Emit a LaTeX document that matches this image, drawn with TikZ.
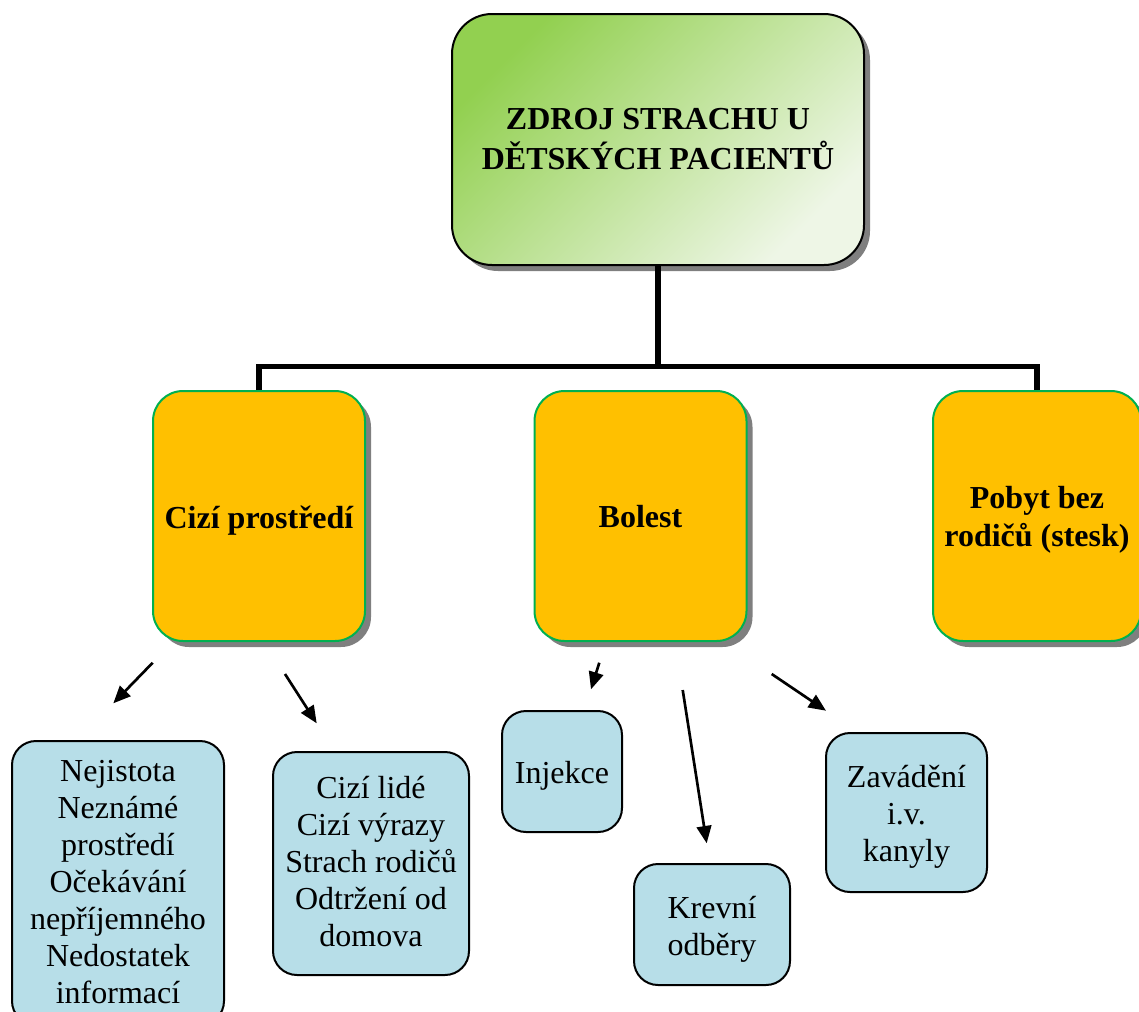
\documentclass[tikz,border=0pt]{standalone}
\usepackage{fontspec}
\setmainfont{Liberation Serif}
\usetikzlibrary{arrows.meta,shadows}

\definecolor{leafgreen}{HTML}{92D050}
\definecolor{paleleaf}{HTML}{EEF6E6}
\definecolor{amber}{HTML}{FFC000}
\definecolor{rimgreen}{HTML}{00B050}
\definecolor{paleblue}{HTML}{B7DEE8}

% centred lines, set slightly below the middle of their box
\newcommand\boxlines[2][3pt]{\raisebox{-#1}[\height][\depth]{\begin{tabular}{@{}c@{}}#2\end{tabular}}}

\begin{document}
\begin{tikzpicture}[x=0.75pt,y=-0.75pt,
  font=\fontsize{24}{27.75}\selectfont,
  boxshadow/.style={drop shadow={shadow xshift=4.5pt,shadow yshift=-4.5pt,fill=black,opacity=0.5}},
  headbox/.style={draw=black,line width=1.5pt,rounded corners=30pt,
    top color=leafgreen,bottom color=paleleaf,shading angle=45,
    boxshadow,inner sep=0pt,font=\fontsize{24}{27.75}\selectfont\bfseries},
  causebox/.style={draw=rimgreen,line width=1.5pt,fill=amber,rounded corners=22.5pt,
    boxshadow,inner sep=0pt,font=\fontsize{24}{28.5}\selectfont\bfseries,
    minimum width=159pt,minimum height=187.5pt},
  itembox/.style={draw=black,line width=1.5pt,fill=paleblue,rounded corners=18pt,
    inner sep=0pt},
  trunk/.style={line width=4.2pt},
  pointer/.style={line width=2pt,-{Triangle[length=13pt,width=11pt]}}]

\useasboundingbox (0,0) rectangle (1139,1011);

% root
\node[headbox,minimum width=309pt,minimum height=188.25pt] (zdroj) at (658,139.5)
  {\boxlines[2pt]{ZDROJ STRACHU U\\DĚTSKÝCH PACIENTŮ}};

% three sources of fear
\node[causebox] (cizi) at (259,516) {\boxlines[4pt]{Cizí prostředí}};
\node[causebox] (bolest) at (640.5,516) {\boxlines{Bolest}};
\node[causebox,minimum width=156pt] (pobyt) at (1037,516) {\boxlines{Pobyt bez\\rodičů (stesk)}};

% tree connectors
\coordinate (fork) at (658,366.5);
\draw[trunk] (zdroj.south) -- (fork);
\draw[trunk] (cizi.north) |- (fork) -| (pobyt.north);

% detail boxes
\node[itembox,minimum width=159pt,minimum height=213pt] (nejistota) at (118,883)
  {\boxlines[1.5pt]{Nejistota\\Neznámé\\prostředí\\Očekávání\\nepříjemného\\Nedostatek\\informací}};
\node[itembox,minimum width=147pt,minimum height=167.25pt] (lide) at (371,863.5)
  {\boxlines[1.5pt]{Cizí lidé\\Cizí výrazy\\Strach rodičů\\Odtržení od\\domova}};
\node[itembox,minimum width=90pt,minimum height=90.75pt] (injekce) at (562,771.5)
  {\boxlines[3.5pt]{Injekce}};
\node[itembox,minimum width=117pt,minimum height=90.75pt] (krev) at (712,924.5)
  {\boxlines[4pt]{Krevní\\odběry}};
\node[itembox,minimum width=120.75pt,minimum height=119.25pt] (kanyla) at (906.5,812.5)
  {\boxlines[3.5pt]{Zavádění\\i.v.\\kanyly}};

% loose pointers below the cause boxes
\coordinate (p1s) at (152.7,662.7); \coordinate (p1e) at (113.3,703.3);
\coordinate (p2s) at (285,674);     \coordinate (p2e) at (316.7,723.3);
\coordinate (p3s) at (599.3,662.7); \coordinate (p3e) at (591,689.3);
\coordinate (p4s) at (682.7,690);   \coordinate (p4e) at (706.7,843.3);
\coordinate (p5s) at (771.7,674);   \coordinate (p5e) at (826,710.7);
\draw[pointer] (p1s) -- (p1e);
\draw[pointer] (p2s) -- (p2e);
\draw[pointer] (p3s) -- (p3e);
\draw[pointer] (p4s) -- (p4e);
\draw[pointer] (p5s) -- (p5e);

\end{tikzpicture}
\end{document}
